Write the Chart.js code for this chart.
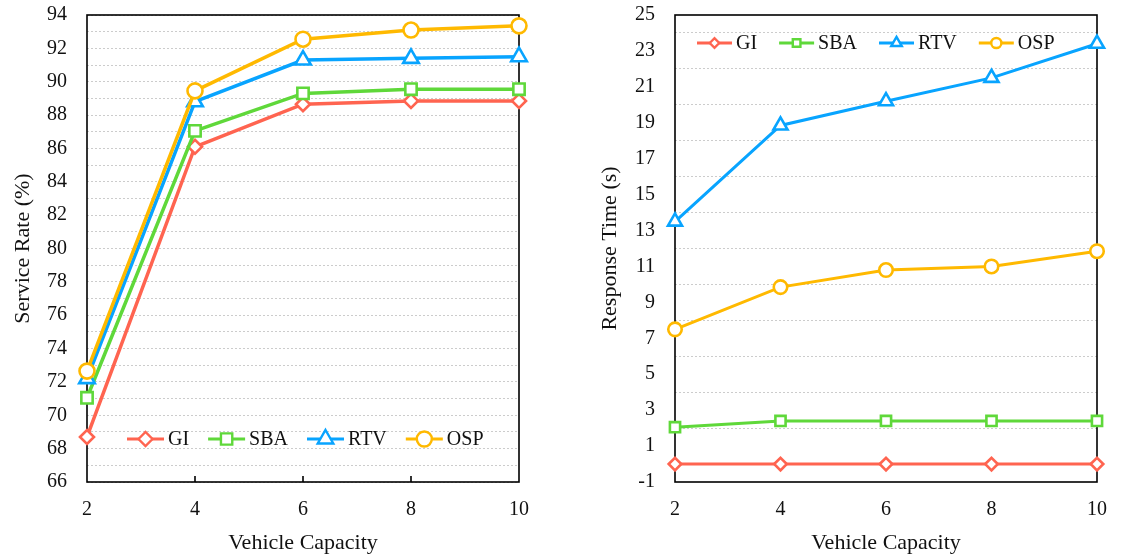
<!DOCTYPE html>
<html lang="en">
<head>
  <meta charset="UTF-8">
  <title>Service Rate and Response Time vs Vehicle Capacity</title>
  <script src="https://cdn.jsdelivr.net/npm/chart.js"></script>
  <style>
    body {
      margin: 0;
      background: #ffffff;
      width: 1123px;
      height: 559px;
      position: relative;
      overflow: hidden;
    }
    canvas {
      position: absolute;
      top: 0;
    }
    #rateChart { left: 0; }
    #timeChart { left: 590px; }
  </style>
</head>
<body>
  <canvas id="rateChart" width="545" height="559"></canvas>
  <canvas id="timeChart" width="533" height="559"></canvas>

  <script>
    // Vehicle capacities on the x axis
    const capacities = ['2', '4', '6', '8', '10'];

    // Service rate (%)
    const rateGI  = [68.7, 86.1, 88.65, 88.85, 88.85];
    const rateSBA = [71.05, 87.05, 89.3, 89.55, 89.55];
    const rateRTV = [72.2, 88.8, 91.3, 91.4, 91.5];
    const rateOSP = [72.65, 89.45, 92.55, 93.1, 93.35];

    // Response time (s)
    const timeGI  = [0, 0, 0, 0, 0];
    const timeSBA = [2.05, 2.4, 2.4, 2.4, 2.4];
    const timeRTV = [13.5, 18.85, 20.2, 21.5, 23.4];
    const timeOSP = [7.5, 9.85, 10.8, 11.0, 11.85];

    const methods = ['GI', 'SBA', 'RTV', 'OSP'];
    const colors = ['#ff6450', '#5fd83a', '#08a4ff', '#ffb900'];
    const markers = ['rectRot', 'rect', 'triangle', 'circle'];
    const markerSize = [7, 8, 9, 7.5];

    const FONT = 'Liberation Serif';

    function makeDatasets(series, lineWidth, scale) {
      return series.map((data, i) => ({
        label: methods[i],
        data: data,
        borderColor: colors[i],
        backgroundColor: '#ffffff',
        borderWidth: lineWidth,
        pointStyle: markers[i],
        pointRadius: markerSize[i] * scale,
        pointBorderWidth: 2.6,
        pointBackgroundColor: '#ffffff',
        pointBorderColor: colors[i],
        tension: 0,
        order: series.length - i
      }));
    }

    // black box around the plot + optional inward ticks on the x axis
    const framePlugin = {
      id: 'frame',
      beforeDatasetsDraw(chart, args, opts) {
        const { ctx, chartArea: a } = chart;
        ctx.save();
        ctx.strokeStyle = '#000';
        ctx.lineWidth = 1.6;
        ctx.strokeRect(a.left, a.top, a.right - a.left, a.bottom - a.top);
        if (opts.innerTicks) {
          const xs = chart.scales.x;
          ctx.beginPath();
          for (let i = 1; i < capacities.length - 1; i++) {
            const px = xs.getPixelForValue(i);
            ctx.moveTo(px, a.bottom);
            ctx.lineTo(px, a.bottom - 6);
          }
          ctx.stroke();
        }
        ctx.restore();
      }
    };

    // legend drawn inside the plot area on one row
    const insideLegend = {
      id: 'insideLegend',
      afterDatasetsDraw(chart, args, opts) {
        const { ctx } = chart;
        ctx.save();
        ctx.font = opts.fontSize + 'px "' + FONT + '"';
        ctx.textBaseline = 'middle';
        ctx.textAlign = 'left';
        let x = opts.x;
        const y = opts.y;
        chart.data.datasets.forEach((ds, i) => {
          ctx.strokeStyle = ds.borderColor;
          ctx.lineWidth = opts.lineWidth;
          ctx.beginPath();
          ctx.moveTo(x, y);
          ctx.lineTo(x + opts.lineLen, y);
          ctx.stroke();
          ctx.fillStyle = '#ffffff';
          ctx.strokeStyle = ds.borderColor;
          ctx.lineWidth = 2.4;
          Chart.helpers.drawPoint(ctx, {
            pointStyle: ds.pointStyle,
            radius: ds.pointRadius * opts.markerScale,
            rotation: 0,
            borderWidth: 2.4
          }, x + opts.lineLen / 2, y);
          x += opts.lineLen + 4;
          ctx.fillStyle = '#111';
          ctx.fillText(ds.label, x, y + 1);
          x += ctx.measureText(ds.label).width + opts.gap;
        });
        ctx.restore();
      }
    };

    function makeOptions(cfg) {
      return {
        responsive: false,
        animation: false,
        layout: { padding: { top: 15, right: cfg.padRight, left: 0, bottom: 0 } },
        plugins: {
          legend: { display: false },
          tooltip: { enabled: false },
          frame: { innerTicks: cfg.innerTicks },
          insideLegend: cfg.legend
        },
        scales: {
          x: {
            type: 'category',
            offset: false,
            grid: { display: false, drawTicks: false },
            border: { display: false },
            ticks: {
              padding: 16,
              color: '#111',
              font: { family: FONT, size: 20 },
              maxRotation: 0,
              autoSkip: false
            },
            title: {
              display: true,
              text: 'Vehicle Capacity',
              color: '#111',
              font: { family: FONT, size: 22 },
              padding: { top: 0, bottom: 3 }
            },
            afterFit(scale) { scale.height = 77; }
          },
          y: {
            min: cfg.min,
            max: cfg.max,
            grid: {
              drawTicks: false,
              lineWidth: 1,
              color: cfg.gridColor
            },
            border: { display: false, dash: [2, 2] },
            ticks: {
              stepSize: 1,
              padding: 20,
              color: '#111',
              font: { family: FONT, size: 20 },
              autoSkip: false,
              callback: cfg.tickLabel
            },
            title: {
              display: true,
              text: cfg.yTitle,
              color: '#111',
              font: { family: FONT, size: 22 },
              padding: { top: cfg.titlePad, bottom: 0 }
            },
            afterFit(scale) {
              scale.width = cfg.axisWidth;
              // tick padding should only push labels sideways
              scale.paddingTop = 0;
              scale.paddingBottom = 0;
            }
          }
        }
      };
    }

    new Chart(document.getElementById('rateChart'), {
      type: 'line',
      data: {
        labels: capacities,
        datasets: makeDatasets([rateGI, rateSBA, rateRTV, rateOSP], 3.5, 1)
      },
      options: makeOptions({
        padRight: 25,
        axisWidth: 87,
        titlePad: 10,
        min: 66,
        max: 94,
        yTitle: 'Service Rate (%)',
        innerTicks: true,
        gridColor: '#cccccc',
        tickLabel: (v) => (v % 2 === 0 ? v : ''),
        legend: { x: 127, y: 439, lineLen: 37, gap: 19, fontSize: 20, lineWidth: 3.2, markerScale: 1 }
      }),
      plugins: [framePlugin, insideLegend]
    });

    new Chart(document.getElementById('timeChart'), {
      type: 'line',
      data: {
        labels: capacities,
        datasets: makeDatasets([timeGI, timeSBA, timeRTV, timeOSP], 3, 0.9)
      },
      options: makeOptions({
        padRight: 16,
        axisWidth: 85,
        titlePad: 7,
        min: -1,
        max: 25,
        yTitle: 'Response Time (s)',
        innerTicks: false,
        gridColor: (c) => (c.tick && Math.abs(c.tick.value % 2) === 0 ? '#cccccc' : 'rgba(0,0,0,0)'),
        tickLabel: (v) => (Math.abs(v % 2) === 1 ? v : ''),
        legend: { x: 107, y: 43, lineLen: 35, gap: 22, fontSize: 20, lineWidth: 3, markerScale: 0.75 }
      }),
      plugins: [framePlugin, insideLegend]
    });
  </script>
</body>
</html>
